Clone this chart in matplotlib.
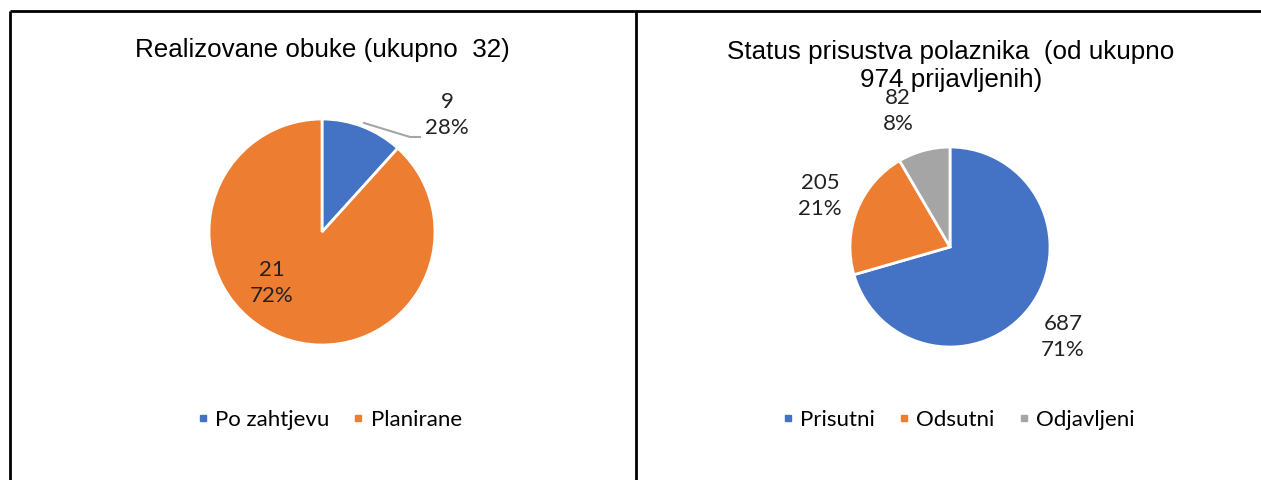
import numpy as np
import matplotlib.pyplot as plt
from matplotlib.lines import Line2D

W, H = 1261, 480

# left chart: realized trainings
obuke_cats = ["Po zahtjevu", "Planirane"]
obuke_counts = [9, 21]
obuke_pct = ["28%", "72%"]
obuke_slice = [11.7, 88.3]  # slice sizes as drawn in the source picture

# right chart: attendance status
status_cats = ["Prisutni", "Odsutni", "Odjavljeni"]
status_counts = [687, 205, 82]
status_pct = ["71%", "21%", "8%"]

blue, orange, grey = "#4472C4", "#ED7D31", "#A5A5A5"

plt.rcParams["font.family"] = ["Lato", "DejaVu Sans"]

fig = plt.figure(figsize=(W / 100, H / 100), dpi=100)
ax = fig.add_axes([0, 0, 1, 1])


def Y(y):
    return H - y


wedge = dict(edgecolor="white", linewidth=2)
ax.pie(obuke_slice, colors=[blue, orange], startangle=90, counterclock=False,
       center=(322, Y(232)), radius=113, wedgeprops=wedge, frame=True)
ax.pie(status_counts, colors=[blue, orange, grey], startangle=90, counterclock=False,
       center=(950, Y(247)), radius=100, wedgeprops=wedge, frame=True)

ax.set_xlim(0, W)
ax.set_ylim(0, H)
ax.set_aspect("auto")
ax.axis("off")

# table borders
bk = dict(color="black", lw=2, solid_capstyle="butt")
ax.plot([10, W], [Y(11), Y(11)], **bk)
ax.plot([10, 10], [Y(11), 0], **bk)
ax.plot([636, 636], [Y(11), 0], **bk)

# titles
tf = dict(family=["Liberation Sans", "DejaVu Sans"], fontsize=18.7, ha="center", va="center")
ax.text(322, Y(50), "Realizovane obuke (ukupno  32)", **tf)
ax.text(951, Y(66), "Status prisustva polaznika  (od ukupno\n974 prijavljenih)",
        linespacing=1.25, **tf)

# data labels
lf = dict(fontsize=16, ha="center", va="center", linespacing=1.35, color="#222222")
ax.text(447, Y(115), f"{obuke_counts[0]}\n{obuke_pct[0]}", **lf)
ax.text(272, Y(283), f"{obuke_counts[1]}\n{obuke_pct[1]}", **lf)
ax.plot([364, 410, 420], [Y(123), Y(137), Y(137)], color="#A5A5A5", lw=1.5)

ax.text(1063, Y(337), f"{status_counts[0]}\n{status_pct[0]}", **lf)
ax.text(820, Y(196), f"{status_counts[1]}\n{status_pct[1]}", **lf)
ax.text(898, Y(111), f"{status_counts[2]}\n{status_pct[2]}", **lf)

# legends
def handles(cols):
    return [Line2D([], [], marker="s", ls="", color=c, markersize=5) for c in cols]


leg_kw = dict(frameon=False, fontsize=16, handlelength=0.6, handletextpad=0.25,
              columnspacing=1.0, loc="center")
fig.legend(handles([blue, orange]), obuke_cats, ncol=2,
           bbox_to_anchor=(329 / W, 1 - 420 / H), **leg_kw)
fig.legend(handles([blue, orange, grey]), status_cats, ncol=3,
           bbox_to_anchor=(958 / W, 1 - 420 / H), **leg_kw)

fig.savefig("out.png", dpi=100)
